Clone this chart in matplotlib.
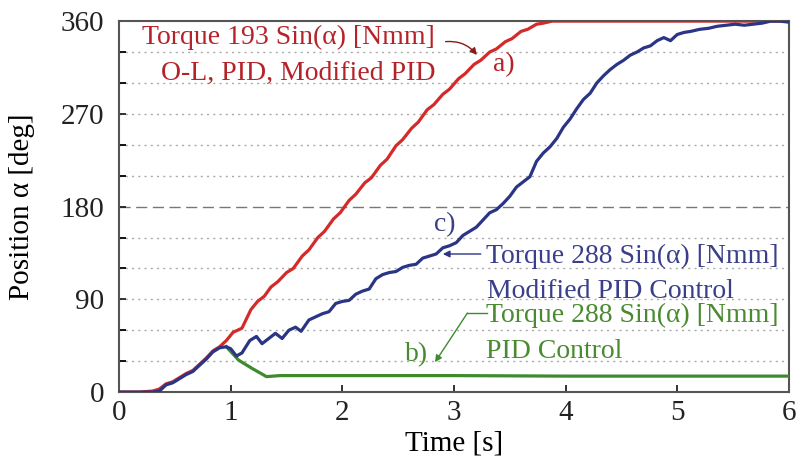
import numpy as np
import matplotlib
matplotlib.use('Agg')
from matplotlib import pyplot as plt

plt.rcParams['font.family'] = ['Liberation Serif', 'DejaVu Serif']

# a) Torque 193 Sin(a) - O-L, PID, Modified PID
t_red = [0, 0.18, 0.30, 0.36, 0.42, 0.48, 0.54, 0.60, 0.66, 0.72, 0.78, 0.84, 0.90, 0.96,
         1.02, 1.10, 1.18, 1.24, 1.30, 1.36, 1.42, 1.50, 1.56, 1.64, 1.70, 1.78, 1.84,
         1.92, 1.98, 2.06, 2.12, 2.20, 2.26, 2.34, 2.40, 2.48, 2.54, 2.62, 2.68, 2.76,
         2.82, 2.90, 2.96, 3.04, 3.10, 3.18, 3.24, 3.32, 3.38, 3.46, 3.52, 3.60, 3.66,
         3.74, 3.80, 3.88, 6.0]
pos_red = [0, 0, 1, 3, 8, 10, 14, 18, 21, 27, 33, 40, 44, 50,
           58, 62, 80, 88, 93, 102, 107, 116, 120, 132, 138, 150, 156,
           168, 174, 186, 192, 203, 208, 220, 226, 239, 245, 256, 262, 274,
           279, 289, 294, 304, 309, 318, 322, 330, 333, 340, 343, 350, 352,
           357, 358, 360, 360]

# c) Torque 288 Sin(a) - Modified PID
t_blue = [0, 0.18, 0.30, 0.36, 0.42, 0.48, 0.54, 0.60, 0.66, 0.72, 0.78, 0.84, 0.90, 0.96,
          1.00, 1.05, 1.10, 1.17, 1.23, 1.28, 1.34, 1.40, 1.46, 1.52, 1.58, 1.63, 1.70,
          1.76, 1.82, 1.88, 1.94, 2.00, 2.06, 2.12, 2.18, 2.24, 2.30, 2.36, 2.42, 2.48,
          2.54, 2.60, 2.66, 2.72, 2.78, 2.84, 2.90, 2.96, 3.02, 3.08, 3.14, 3.20, 3.26,
          3.32, 3.38, 3.44, 3.50, 3.56, 3.62, 3.68, 3.74, 3.80, 3.86, 3.92, 3.98, 4.04,
          4.10, 4.16, 4.22, 4.28, 4.34, 4.40, 4.46, 4.52, 4.58, 4.64, 4.70, 4.76, 4.82,
          4.88, 4.94, 5.00, 5.06, 5.12, 5.20, 5.28, 5.36, 5.44, 5.52, 5.60, 5.68, 5.76,
          5.84, 5.92, 6.00]
pos_blue = [0, 0, 0, 1, 7, 9, 13, 17, 20, 26, 32, 39, 43, 44,
            42, 35, 38, 50, 54, 47, 52, 57, 52, 60, 63, 59, 70,
            73, 76, 78, 86, 88, 89, 95, 98, 100, 110, 114, 116, 117,
            121, 123, 124, 130, 132, 134, 140, 142, 145, 152, 156, 160, 167,
            174, 177, 183, 190, 199, 204, 209, 224, 232, 238, 246, 257, 265,
            275, 284, 290, 300, 307, 313, 318, 322, 327, 330, 334, 336, 341,
            344, 341, 347, 349, 350, 352, 353, 355, 356, 357, 356, 357, 358,
            360, 360, 359]

# b) Torque 288 Sin(a) - PID
t_green = [0.96, 1.07, 1.19, 1.32, 1.44, 2.0, 3.0, 4.0, 5.0, 6.0]
pos_green = [44, 31, 23, 15, 16, 16, 16, 15.5, 15.5, 15.5]

red = '#d42a2a'
blue = '#2a3585'
green = '#3d8b2e'
red_txt = '#b5232a'
blue_txt = '#3a3f8a'
green_txt = '#4a8a30'

fig = plt.figure(figsize=(8, 4.69), dpi=100)
ax = fig.add_axes([0.149, 0.164, 0.837, 0.791])

for y in range(30, 360, 30):
    if y == 180:
        ax.axhline(y, color='#777777', lw=1.0, ls=(0, (8, 4)), zorder=0)
    else:
        ax.axhline(y, color='#aaaaaa', lw=1.0, ls=(0, (1.5, 3)), zorder=0)

ax.plot(t_red, pos_red, color=red, lw=2.3, zorder=2)
ax.plot(t_green, pos_green, color=green, lw=2.3, zorder=3)
ax.plot(t_blue, pos_blue, color=blue, lw=2.3, zorder=4)

ax.set_xlim(0, 6)
ax.set_ylim(0, 360)
ax.set_xticks(range(0, 7))
ax.set_yticks([0, 90, 180, 270, 360])
ax.set_yticks(range(30, 360, 30), minor=True)
ax.tick_params(direction='in', labelsize=21, length=5, width=1.3, colors='#222222',
               top=False, right=False)
ax.tick_params(axis='y', which='minor', direction='in', length=5, width=1.3, left=True)
ax.tick_params(axis='x', pad=6)
ax.tick_params(axis='y', pad=11)
for s in ax.spines.values():
    s.set_color('#555555')
    s.set_linewidth(1.5)

ax.set_xlabel('Time [s]', fontsize=21, labelpad=3)
ax.set_ylabel('Position α [deg]', fontsize=21, labelpad=18)

fs = 20
ax.text(1.516, 343.7, 'Torque 193 Sin(α) [Nmm]', color=red_txt, fontsize=fs,
        ha='center', va='center')
ax.text(1.605, 309, 'O-L, PID, Modified PID', color=red_txt, fontsize=fs,
        ha='center', va='center')
ax.text(3.45, 317.5, 'a)', color=red_txt, fontsize=fs, ha='center', va='center')
ax.annotate('', xy=(3.22, 325), xytext=(2.90, 339.8),
            arrowprops=dict(arrowstyle='-|>', color='#8a1a1a', lw=1.0,
                            connectionstyle='arc3,rad=-0.3', mutation_scale=10))

ax.text(2.92, 163, 'c)', color=blue_txt, fontsize=fs, ha='center', va='center')
ax.annotate('', xy=(2.90, 134), xytext=(3.24, 134),
            arrowprops=dict(arrowstyle='-|>', color=blue, lw=1.0, mutation_scale=10,
                            shrinkA=0, shrinkB=0))
ax.text(3.29, 132, 'Torque 288 Sin(α) [Nmm]', color=blue_txt, fontsize=fs,
        ha='left', va='center')
ax.text(3.30, 98, 'Modified PID Control', color=blue_txt, fontsize=fs,
        ha='left', va='center')

ax.text(3.29, 74, 'Torque 288 Sin(α) [Nmm]', color=green_txt, fontsize=fs,
        ha='left', va='center')
ax.text(3.29, 39, 'PID Control', color=green_txt, fontsize=fs, ha='left', va='center')
ax.plot([3.30, 3.12], [76.7, 76.7], color=green, lw=1.0)
ax.annotate('', xy=(2.83, 29), xytext=(3.12, 76.7),
            arrowprops=dict(arrowstyle='-|>', color=green, lw=1.0, mutation_scale=10,
                            shrinkA=0, shrinkB=0))
ax.text(2.66, 36, 'b)', color=green_txt, fontsize=fs, ha='center', va='center')

fig.savefig('out.png', dpi=100)
